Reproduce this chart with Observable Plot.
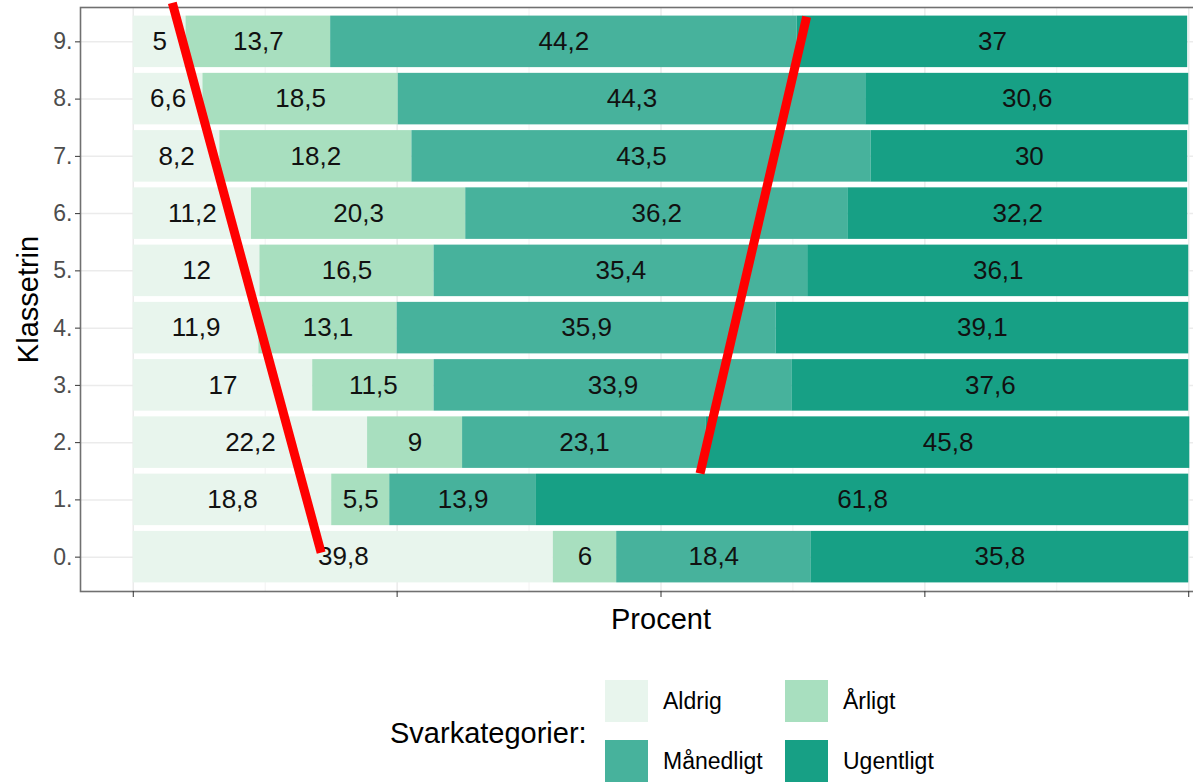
<!DOCTYPE html>
<html>
<head>
<meta charset="utf-8">
<script src="https://cdn.jsdelivr.net/npm/d3@7"></script>
<script src="https://cdn.jsdelivr.net/npm/@observablehq/plot@0.6"></script>
<style>
  html, body { margin: 0; padding: 0; background: #fff; }
  #wrap { position: relative; width: 1193px; height: 782px; overflow: hidden; font-family: "Liberation Sans", Arial, sans-serif; }
  #chart { position: absolute; left: 0; top: 0; width: 1241px; }
  #legend { position: absolute; left: 0; top: 0; width: 1193px; height: 782px; pointer-events: none; }
  .lg-title { position: absolute; left: 390px; top: 717px; font-size: 29px; color: #000; white-space: nowrap; }
  .lg-key { position: absolute; width: 43px; height: 42px; }
  .lg-lab { position: absolute; font-size: 23px; color: #000; white-space: nowrap; }
</style>
</head>
<body>
<div id="wrap">
  <div id="chart"></div>
  <div id="legend"></div>
</div>
<script>
// ---- Data ----
const categories = ["Aldrig", "Årligt", "Månedligt", "Ugentligt"];
const colors = ["#e8f5ed", "#a8dfbf", "#47b29c", "#17a085"];
const grades = [0, 1, 2, 3, 4, 5, 6, 7, 8, 9];
const gradeLabels = ["0.", "1.", "2.", "3.", "4.", "5.", "6.", "7.", "8.", "9."];
const aldrig    = [39.8, 18.8, 22.2, 17.0, 11.9, 12.0, 11.2, 8.2, 6.6, 5.0];
const aarligt   = [6.0, 5.5, 9.0, 11.5, 13.1, 16.5, 20.3, 18.2, 18.5, 13.7];
const maanedligt= [18.4, 13.9, 23.1, 33.9, 35.9, 35.4, 36.2, 43.5, 44.3, 44.2];
const ugentligt = [35.8, 61.8, 45.8, 37.6, 39.1, 36.1, 32.2, 30.0, 30.6, 37.0];
const xTicks = [0, 25, 50, 75, 100];
const xMinor = [12.5, 37.5, 62.5, 87.5];
// red annotation lines (in data units: x = percent, y = grade)
const redLine1 = [{x: 3.7, y: 9.68}, {x: 17.8, y: 0.08}];
const redLine2 = [{x: 63.8, y: 9.44}, {x: 53.7, y: 1.46}];
const xTitle = "Procent";
const yTitle = "Klassetrin";
const legendTitle = "Svarkategorier:";

// ---- Build table ----
const series = [aldrig, aarligt, maanedligt, ugentligt];
const table = [];
grades.forEach((g, i) => {
  let acc = 0;
  categories.forEach((c, k) => {
    const v = series[k][i];
    table.push({grade: g, cat: c, value: v, x1: acc, x2: acc + v});
    acc += v;
  });
});
const fmt = v => String(v).replace(".", ",");

const W = 1241, H = 645;
const chart = Plot.plot({
  width: W,
  height: H,
  marginLeft: 80,
  marginRight: 0,
  marginTop: 7,
  marginBottom: H - 591,
  style: {fontFamily: "Liberation Sans, Arial, sans-serif", background: "#fff", maxWidth: "none", overflow: "visible"},
  x: {domain: [-5, 105]},
  y: {domain: [-0.6, 9.6]},
  color: {domain: categories, range: colors},
  marks: [
    Plot.gridX(xMinor, {stroke: "#f2f2f2", strokeOpacity: 1, strokeWidth: 1}),
    Plot.gridX(xTicks, {stroke: "#ebebeb", strokeOpacity: 1, strokeWidth: 1.5}),
    Plot.gridY(grades, {stroke: "#ebebeb", strokeOpacity: 1, strokeWidth: 1.5}),
    Plot.rectX(table, {
      x1: "x1", x2: "x2",
      y1: d => d.grade - 0.45, y2: d => d.grade + 0.45,
      fill: "cat"
    }),
    Plot.text(table, {
      x: d => (d.x1 + d.x2) / 2, y: "grade",
      text: d => fmt(d.value),
      fill: "#111", fontSize: 26
    }),
    Plot.frame({stroke: "#707070", strokeWidth: 1.6}),
    Plot.axisY(grades, {
      anchor: "left",
      tickFormat: d => gradeLabels[d],
      tickSize: 5, tickPadding: 3,
      stroke: "#333", color: "#4d4d4d", fontSize: 23,
      label: null
    }),
    Plot.axisX(xTicks, {
      anchor: "bottom",
      tickFormat: () => "",
      tickSize: 6, tickPadding: 0,
      stroke: "#333",
      label: null
    }),
    Plot.text([xTitle], {
      x: 50, frameAnchor: "bottom", dy: 37, text: d => d,
      fontSize: 29, fill: "#000"
    }),
    Plot.text([yTitle], {
      frameAnchor: "left", dx: -52, rotate: -90, text: d => d,
      textAnchor: "middle", lineAnchor: "middle",
      fontSize: 29, fill: "#000"
    }),
    Plot.line(redLine1, {x: "x", y: "y", stroke: "#ff0000", strokeWidth: 9, strokeLinecap: "butt", clip: false}),
    Plot.line(redLine2, {x: "x", y: "y", stroke: "#ff0000", strokeWidth: 9, strokeLinecap: "butt", clip: false})
  ]
});
document.getElementById("chart").appendChild(chart);

// ---- Legend ----
const lg = document.getElementById("legend");
const title = document.createElement("div");
title.className = "lg-title";
title.textContent = legendTitle;
lg.appendChild(title);
const pos = [[605, 680], [785, 680], [605, 740], [785, 740]];
categories.forEach((c, i) => {
  const k = document.createElement("div");
  k.className = "lg-key";
  k.style.left = pos[i][0] + "px";
  k.style.top = pos[i][1] + "px";
  k.style.background = colors[i];
  lg.appendChild(k);
  const l = document.createElement("div");
  l.className = "lg-lab";
  l.style.left = (pos[i][0] + 58) + "px";
  l.style.top = (pos[i][1] + 8) + "px";
  l.textContent = c;
  lg.appendChild(l);
});
</script>
</body>
</html>
